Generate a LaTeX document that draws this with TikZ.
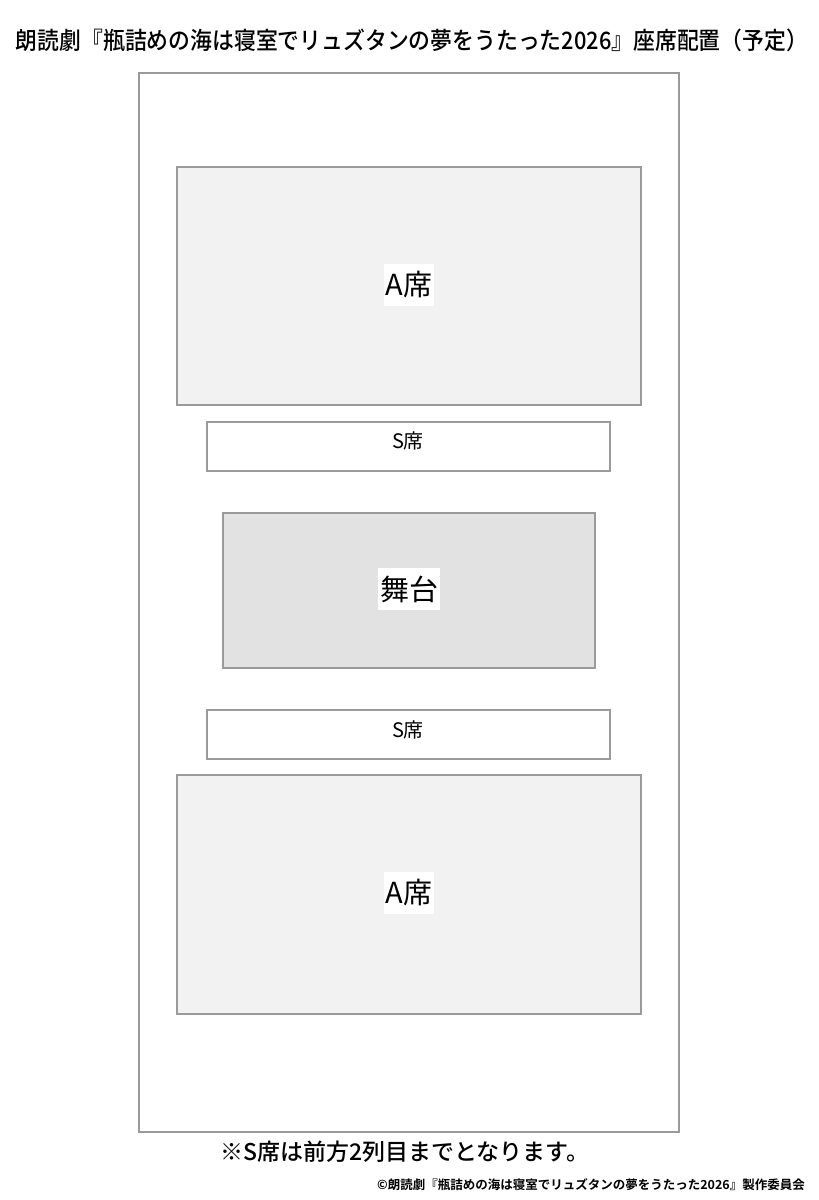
\documentclass[tikz,border=0pt]{standalone}
\usepackage{fontspec}
\setmainfont{Noto Sans CJK JP}
\newfontfamily\jpb{Noto Sans CJK JP Bold}
\newfontfamily\jpm{Noto Sans CJK JP Medium}
\newfontfamily\jpmn[FakeStretch=0.91]{Noto Sans CJK JP Medium}
\definecolor{edge}{HTML}{9A9A9A}
\definecolor{afill}{HTML}{F2F2F2}
\definecolor{stfill}{HTML}{E2E2E2}
\begin{document}
\begin{tikzpicture}[x=1pt,y=-1pt,
  area/.style={draw=edge,line width=1.5pt},
  biglabel/.style={fill=white,inner xsep=2pt,inner ysep=8pt,font=\fontsize{29}{31}\selectfont},
  slabel/.style={inner sep=0pt,font=\fontsize{20}{22}\selectfont}]
\useasboundingbox[fill=white] (0,0) rectangle (819,1200);
\node[font=\jpmn\fontsize{24}{26}\selectfont,inner sep=0pt] (title) at (412,40) {朗読劇『瓶詰めの海は寝室でリュズタンの夢をうたった2026』座席配置（予定）};
\draw[area,fill=white] (139,73) rectangle (679,1132);
\draw[area,fill=afill] (177,167) rectangle (641,405);
\draw[area,fill=white] (207,422) rectangle (610,471);
\draw[area,fill=stfill] (223,513) rectangle (595,668);
\draw[area,fill=white] (207,710) rectangle (610,759);
\draw[area,fill=afill] (177,775) rectangle (641,1014);
\node[biglabel] (a1) at (409,285) {A席};
\node[slabel] (s1) at (408,441) {S席};
\node[biglabel] (stage) at (409,589) {舞台};
\node[slabel] (s2) at (408,730) {S席};
\node[biglabel] (a2) at (409,893) {A席};
\node[font=\jpm\fontsize{23}{25}\selectfont,inner sep=0pt] (note) at (405,1152) {※S席は前方2列目までとなります。};
\node[font=\jpb\fontsize{12.5}{14}\selectfont,inner sep=0pt,anchor=east] (copy) at (805,1185) {©朗読劇『瓶詰めの海は寝室でリュズタンの夢をうたった2026』製作委員会};
\end{tikzpicture}
\end{document}
